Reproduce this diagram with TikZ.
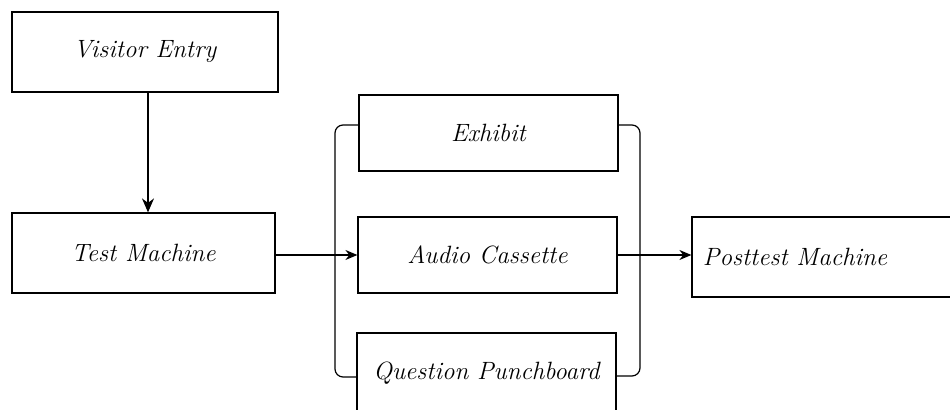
\documentclass[tikz,border=0pt]{standalone}
\usetikzlibrary{arrows.meta,calc}
\begin{document}
\begin{tikzpicture}[x=0.5pt,y=-0.5pt,
  box/.style={draw,line width=0.6pt,inner sep=0pt,font=\fontsize{12.5}{15}\selectfont\itshape},
  lbl/.style={inner sep=0pt,font=\fontsize{12.5}{15}\selectfont\itshape},
  arr/.style={line width=0.6pt,-{Stealth[length=6pt,width=5pt]}},
  brk/.style={line width=0.6pt,rounded corners=4pt}]
\clip (0,0) rectangle (950,410);
\fill[white] (0,0) rectangle (950,410);
\node[box,minimum width=133pt,minimum height=40pt] (vis) at (145,52) {Visitor Entry};
\node[box,minimum width=131.5pt,minimum height=40pt] (test) at (143.5,253) {Test Machine};
\node[box,minimum width=129.5pt,minimum height=38pt] (exh) at (488.5,133) {Exhibit};
\node[box,minimum width=129.5pt,minimum height=38pt] (aud) at (487.5,255) {Audio Cassette};
\node[box,minimum width=129.5pt,minimum height=40pt] (que) at (486.5,373) {Question Punchboard};
\node[box,minimum width=134pt,minimum height=40pt] (post) at (826,257) {};
\node[lbl] (postlbl) at (795,257) {Posttest Machine};
\draw[arr,-{Stealth[length=7pt,width=6pt]}] (vis.south -| 148,0) -- (test.north -| 148,0);
\draw[arr] (test.east |- aud.west) -- (aud.west);
\draw[arr] (aud.east) -- (aud.east -| post.west);
\coordinate (l1) at (335,125);
\coordinate (l2) at (335,377);
\coordinate (r1) at (640,125);
\coordinate (r2) at (640,376);
\draw[brk] (exh.west |- l1) -- (l1) -- (l2) -- (que.west |- l2);
\draw[brk] (exh.east |- r1) -- (r1) -- (r2) -- (que.east |- r2);
\end{tikzpicture}
\end{document}
